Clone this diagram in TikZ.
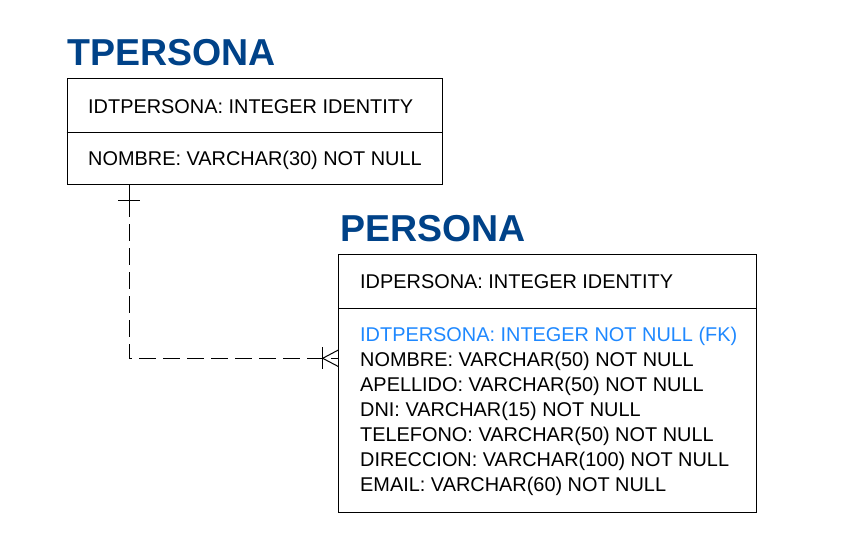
\documentclass[tikz,border=0pt]{standalone}
\usepackage{fontspec}
\setmainfont{Liberation Sans}
\usetikzlibrary{calc}
\definecolor{titleblue}{RGB}{0,66,136}
\definecolor{fkblue}{RGB}{30,136,255}
\tikzset{
  entity/.style={draw=black, line width=1pt, rectangle, inner sep=0pt, anchor=north west},
  divider/.style={draw=black, line width=1pt},
  title/.style={anchor=base west, inner sep=0pt, text=titleblue, font=\fontsize{37.5}{40}\selectfont\bfseries},
  attr/.style={anchor=base west, inner sep=0pt, font=\fontsize{19.9}{25}\selectfont},
  fkattr/.style={attr, text=fkblue},
  relline/.style={draw=black, line width=1pt, dash pattern=on 17pt off 7pt},
  notation/.style={draw=black, line width=1pt}
}
\begin{document}
\begin{tikzpicture}[x=1pt,y=-1pt]
\useasboundingbox (0,0) rectangle (845,542);
% TPERSONA
\node[title] (t1) at (67,65) {TPERSONA};
\node[entity, minimum width=375.6pt, minimum height=106pt] (tp) at (66.7,78.3) {};
\draw[divider] (tp.west |- 0,132.3) -- (tp.east |- 0,132.3);
\node[attr] (tp1) at (88,113) {IDTPERSONA: INTEGER IDENTITY};
\node[attr] (tp2) at (88,165) {NOMBRE: VARCHAR(30) NOT NULL};
% PERSONA
\node[title] (t2) at (340,241.7) {PERSONA};
\node[entity, minimum width=417.4pt, minimum height=257.4pt] (p) at (338.3,254.3) {};
\draw[divider] (p.west |- 0,308.3) -- (p.east |- 0,308.3);
\node[attr] (p0) at (360,288) {IDPERSONA: INTEGER IDENTITY};
\node[fkattr] (p1) at (360,341.7) {IDTPERSONA: INTEGER NOT NULL (FK)};
\node[attr] (p2) at (360,366.7) {NOMBRE: VARCHAR(50) NOT NULL};
\node[attr] (p3) at (360,391.7) {APELLIDO: VARCHAR(50) NOT NULL};
\node[attr] (p4) at (360,416.7) {DNI: VARCHAR(15) NOT NULL};
\node[attr] (p5) at (360,441.7) {TELEFONO: VARCHAR(50) NOT NULL};
\node[attr] (p6) at (360,466.7) {DIRECCION: VARCHAR(100) NOT NULL};
\node[attr] (p7) at (360,491.7) {EMAIL: VARCHAR(60) NOT NULL};
% relationship
\coordinate (bend) at (129.3,358.3);
\coordinate (top) at (tp.south west -| bend);
\coordinate (endp) at (bend -| p.west);
\draw[notation] (top) -- ++(0,32);
\draw[relline] ($(top)+(0,39)$) -- (bend) -- (endp);
% one tick
\draw[notation] ($(top)+(-11,15)$) -- ($(top)+(11,15)$);
% crow's foot
\draw[notation] ($(endp)+(-15.6,-11)$) -- ($(endp)+(-15.6,11)$);
\draw[notation] ($(endp)+(-15.6,0)$) -- ($(endp)+(0,-8.3)$);
\draw[notation] ($(endp)+(-15.6,0)$) -- ($(endp)+(0,8.2)$);
\end{tikzpicture}
\end{document}
